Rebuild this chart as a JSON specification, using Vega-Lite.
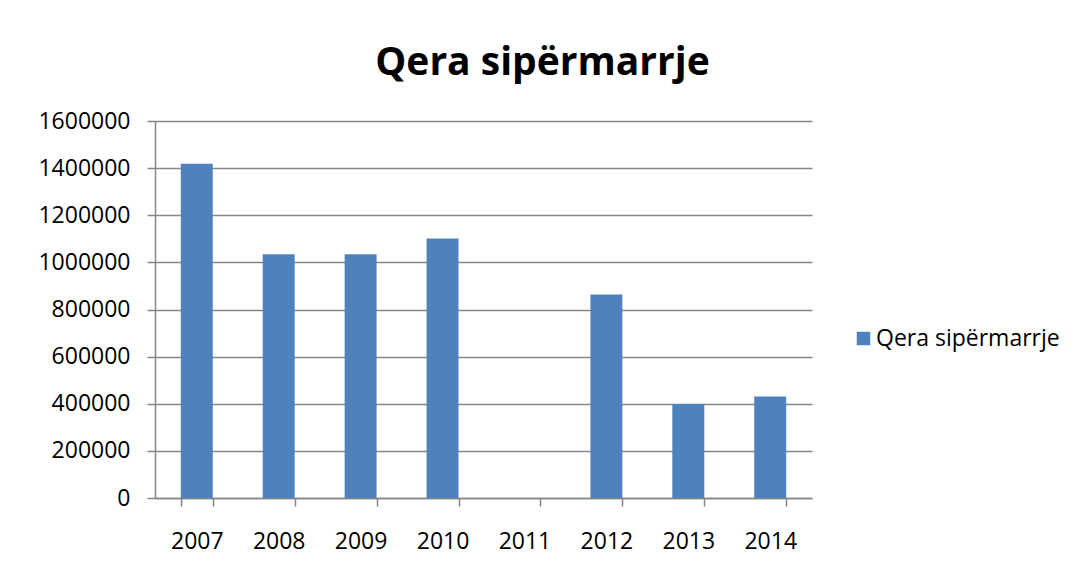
{
  "$schema": "https://vega.github.io/schema/vega-lite/v6.json",
  "width": 657,
  "height": 377,
  "autosize": {"type": "none"},
  "padding": {"left": 155, "top": 121, "right": 263, "bottom": 83},
  "background": "white",
  "title": {
    "text": "Qera sipërmarrje",
    "font": "Open Sans",
    "fontSize": 39,
    "fontWeight": "bold",
    "color": "black",
    "anchor": "middle",
    "dx": 59,
    "offset": 27
  },
  "data": {
    "values": [
      {"year": "2007", "series": "Qera sipërmarrje", "value": 1419000},
      {"year": "2008", "series": "Qera sipërmarrje", "value": 1034000},
      {"year": "2009", "series": "Qera sipërmarrje", "value": 1034000},
      {"year": "2010", "series": "Qera sipërmarrje", "value": 1101000},
      {"year": "2011", "series": "Qera sipërmarrje", "value": 0},
      {"year": "2012", "series": "Qera sipërmarrje", "value": 864000},
      {"year": "2013", "series": "Qera sipërmarrje", "value": 398000},
      {"year": "2014", "series": "Qera sipërmarrje", "value": 431000}
    ]
  },
  "mark": {"type": "bar"},
  "encoding": {
    "x": {
      "field": "year",
      "type": "nominal",
      "scale": {"paddingInner": 0.61, "paddingOuter": 0.315},
      "axis": {
        "title": null,
        "labelAngle": 0,
        "tickBand": "extent",
        "domainColor": "#868686",
        "domainWidth": 1.5,
        "tickColor": "#868686",
        "tickWidth": 1.5,
        "tickSize": 8,
        "labelPadding": 24,
        "labelFont": "Open Sans",
        "labelFontSize": 23,
        "labelColor": "black",
        "grid": false
      }
    },
    "y": {
      "field": "value",
      "type": "quantitative",
      "scale": {"domain": [0, 1600000]},
      "axis": {
        "title": null,
        "values": [0, 200000, 400000, 600000, 800000, 1000000, 1200000, 1400000, 1600000],
        "format": "d",
        "domainColor": "#868686",
        "domainWidth": 1.5,
        "tickColor": "#868686",
        "tickWidth": 1.5,
        "tickSize": 8,
        "labelPadding": 17,
        "labelFont": "Open Sans",
        "labelFontSize": 23,
        "labelColor": "black",
        "grid": true,
        "gridColor": "#868686",
        "gridWidth": 1.5
      }
    },
    "color": {
      "field": "series",
      "type": "nominal",
      "scale": {"range": ["#4F81BD"]},
      "legend": {
        "title": null,
        "orient": "none",
        "legendX": 697,
        "legendY": 206,
        "symbolType": "square",
        "symbolSize": 182,
        "symbolStrokeWidth": 0,
        "labelFont": "Open Sans",
        "labelFontSize": 23,
        "labelLimit": 400,
        "labelColor": "black",
        "labelOffset": 1
      }
    }
  },
  "config": {"view": {"stroke": null}}
}
